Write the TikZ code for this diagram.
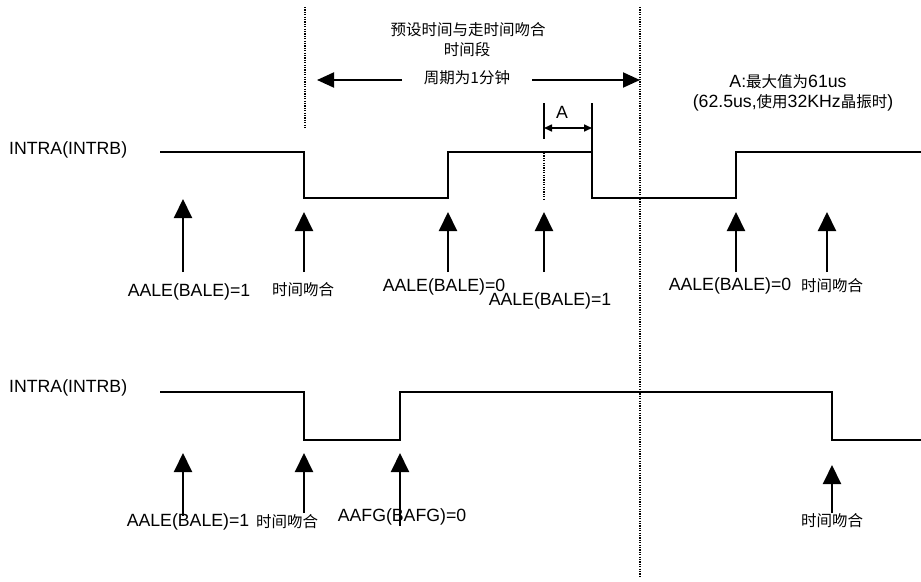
\documentclass[tikz,border=0pt]{standalone}
\usepackage{fontspec}
\setmainfont{Liberation Sans}
\newfontfamily\cjk{Noto Sans CJK SC}
\usetikzlibrary{arrows.meta}
\newcommand{\zh}[1]{{\cjk\fontsize{15.5}{18}\selectfont #1}}
\tikzset{
  txt/.style={inner sep=0pt, font=\fontsize{17.7}{20}\selectfont},
  wave/.style={line width=2.4pt, line join=miter},
  uparrow/.style={line width=2pt, -{Triangle[width=18pt,length=19pt]}},
  bigarrow/.style={line width=2pt, -{Triangle[width=15pt,length=17pt]}},
  smallarrow/.style={line width=1.6pt, {Triangle[width=7pt,length=8pt]}-{Triangle[width=7pt,length=8pt]}},
  dotline/.style={line width=2pt, dash pattern=on 1.2pt off 1.2pt},
  bar/.style={line width=2pt}
}
\begin{document}
\begin{tikzpicture}[x=1pt,y=-1pt]
\useasboundingbox (0,0) rectangle (921,581);
% dotted boundaries
\coordinate (dl1) at (305,7); \coordinate (dl2) at (305,128);
\coordinate (dr1) at (640,7); \coordinate (dr2) at (640,578);
\draw[dotline] (dl1) -- (dl2);
\draw[dotline] (dr1) -- (dr2);
% top texts
\node[txt] (t1) at (468,30) {\zh{预设时间与走时间吻合}};
\node[txt] (t2) at (467,50) {\zh{时间段}};
\node[txt] (t3) at (467,78) {\zh{周期为1分钟}};
\coordinate (pl) at (317,80); \coordinate (pr) at (640,80);
\draw[bigarrow] (t3.west -| 402,0) ++(0,2) coordinate (pla) -- (pla -| pl);
\draw[bigarrow] (t3.east -| 532,0) ++(0,2) coordinate (pra) -- (pra -| pr);
% A marker
\coordinate (abl1) at (544,103); \coordinate (abl2) at (544,139);
\coordinate (abr1) at (592,103); \coordinate (abr2) at (592,152);
\draw[bar] (abl1) -- (abl2);
\draw[bar] (abr1) -- (abr2);
\coordinate (aal) at (544,128); \coordinate (aar) at (592,128);
\draw[smallarrow] (aal) -- (aar);
\node[txt] (alab) at (562,112) {A};
\coordinate (ad1) at (544,153); \coordinate (ad2) at (544,200);
\draw[dotline] (ad1) -- (ad2);
% A note
\node[txt] (an1) at (788,82) {A:\zh{最大值为}61us};
\node[txt] (an2) at (793,103) {(62.5us,\zh{使用}32KHz\zh{晶振时})};
% signal row 1
\node[txt, anchor=west] (s1) at (9,150) {INTRA(INTRB)};
\draw[wave] (160,152) -- (304,152) -- (304,198) -- (448,198) -- (448,152) -- (592,152) -- (592,198) -- (736,198) -- (736,152) -- (921,152);
% row 1 arrows
\foreach \n/\x/\t in {a/183/199, b/304/212, c/448/212, d/544/212, e/736/212, f/827/212}{
  \coordinate (r1\n b) at (\x,272); \coordinate (r1\n t) at (\x,\t);
  \draw[uparrow] (r1\n b) -- (r1\n t);
}
\node[txt] (l1a) at (189,292) {AALE(BALE)=1};
\node[txt] (l1b) at (303,290) {\zh{时间吻合}};
\node[txt] (l1c) at (444,287) {AALE(BALE)=0};
\node[txt] (l1d) at (550,301) {AALE(BALE)=1};
\node[txt] (l1e) at (730,286) {AALE(BALE)=0};
\node[txt] (l1f) at (832,286) {\zh{时间吻合}};
% signal row 2
\node[txt, anchor=west] (s2) at (9,388) {INTRA(INTRB)};
\draw[wave] (160,392) -- (304,392) -- (304,440) -- (400,440) -- (400,392) -- (832,392) -- (832,440) -- (921,440);
\foreach \n/\x/\t/\bb in {a/183/453/516, b/304/453/513, c/400/453/526, d/832/465/513}{
  \coordinate (r2\n b) at (\x,\bb); \coordinate (r2\n t) at (\x,\t);
  \draw[uparrow] (r2\n b) -- (r2\n t);
}
\node[txt] (l2a) at (188,522) {AALE(BALE)=1};
\node[txt] (l2b) at (287,522) {\zh{时间吻合}};
\node[txt] (l2c) at (402,517) {AAFG(BAFG)=0};
\node[txt] (l2d) at (832,521) {\zh{时间吻合}};
\end{tikzpicture}
\end{document}
